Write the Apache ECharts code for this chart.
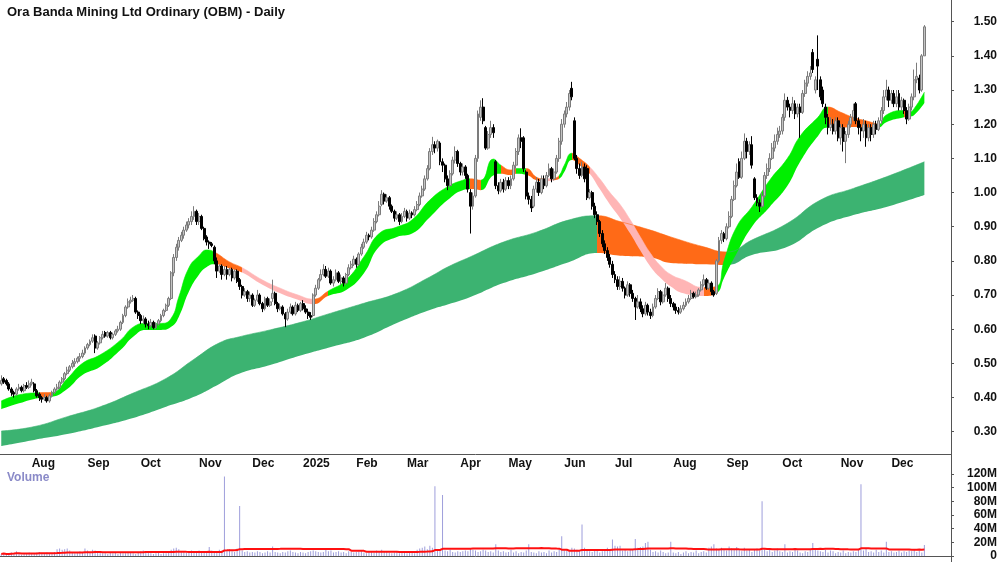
<!DOCTYPE html>
<html>
<head>
<meta charset="utf-8">
<script src="https://cdn.jsdelivr.net/npm/echarts@6/dist/echarts.min.js"></script>
<style>
  html, body { margin: 0; padding: 0; background: #fff; }
  #chart { width: 1000px; height: 562px; }
</style>
</head>
<body>
<div id="chart"></div>
<script>
  // trading days: weekdays from startDate, ASX holidays skipped
  const startDate = '2024-07-16'
  const holidays = ['2024-12-25', '2024-12-26', '2025-01-01', '2025-01-27',
    '2025-04-18', '2025-04-21', '2025-04-25', '2025-06-09']

  // daily prices, one line per month (Jul 2024 .. Dec 2025)
  const opens = [
    .440,.455,.450,.440,.425,.415,.410,.425,.430,.420,.435,.430,
    .440,.440,.420,.410,.400,.395,.400,.390,.405,.415,.425,.430,.445,.455,.470,.480,.490,.500,.505,.515,.520,.530,
    .545,.555,.565,.580,.545,.560,.575,.590,.580,.590,.575,.585,.595,.600,.620,.640,.665,.680,.685,.690,.650,
    .640,.625,.630,.615,.610,.620,.605,.615,.625,.640,.655,.670,.690,.765,.810,.840,.860,.875,.890,.905,.915,.930,.945,
    .915,.930,.895,.870,.855,.850,.840,.800,.770,.785,.760,.775,.760,.775,.750,.770,.745,.725,.700,.710,.690,
    .700,.670,.685,.700,.675,.660,.690,.670,.690,.705,.675,.660,.665,.645,.630,.650,.665,.645,.670,.655,
    .675,.660,.650,.640,.640,.700,.720,.745,.760,.775,.755,.770,.735,.745,.765,.740,.750,.735,.760,.780,.790,
    .805,.790,.820,.840,.855,.875,.870,.890,.915,.935,.965,.995,.975,.985,.960,.945,.925,.935,.915,.930,
    .945,.925,.940,.935,.950,.965,.990,1.010,1.040,1.070,1.120,1.140,1.130,1.145,1.090,1.080,1.040,1.020,1.055,1.095,1.120,
    1.085,1.060,1.075,1.050,1.000,.960,.990,1.100,1.220,1.250,1.190,1.130,1.170,1.190,1.090,1.020,1.005,1.030,1.010,
    1.035,1.020,1.040,1.080,1.120,1.160,1.160,1.060,.990,.980,.960,1.010,1.030,1.000,1.040,1.020,1.050,1.070,1.040,1.060,1.100,1.150,
    1.200,1.230,1.250,1.305,1.210,1.100,1.070,1.050,1.075,1.070,.985,1.000,.960,.935,.915,.880,.850,.830,.810,.790,
    .760,.745,.725,.740,.720,.700,.730,.705,.690,.665,.680,.660,.645,.670,.650,.640,.665,.690,.710,.680,.700,.720,.690,
    .675,.665,.655,.650,.660,.670,.680,.690,.705,.695,.700,.715,.730,.745,.720,.735,.710,.705,.800,.860,.880,
    .865,.900,.930,.980,1.020,1.090,1.045,1.100,1.150,1.120,1.140,1.040,.985,.970,.960,.990,1.050,1.070,1.100,1.130,1.150,1.170,
    1.180,1.220,1.270,1.250,1.240,1.260,1.230,1.250,1.235,1.290,1.320,1.340,1.410,1.300,1.390,1.330,1.300,1.250,1.220,1.190,1.200,1.180,1.210,
    1.160,1.190,1.150,1.170,1.200,1.220,1.260,1.210,1.190,1.180,1.200,1.160,1.190,1.170,1.200,1.185,1.210,1.240,1.280,1.300,
    1.270,1.290,1.260,1.290,1.250,1.270,1.240,1.215,1.250,1.280,1.330,1.335,1.300,1.400
  ]
  const closes = [
    .450,.445,.440,.425,.415,.410,.425,.430,.420,.435,.430,.440,
    .445,.420,.405,.400,.395,.400,.390,.405,.415,.425,.430,.445,.455,.470,.480,.490,.500,.505,.515,.520,.530,.545,
    .555,.565,.575,.545,.560,.575,.585,.580,.590,.575,.585,.595,.600,.620,.640,.665,.680,.685,.690,.650,.640,
    .625,.630,.615,.610,.620,.605,.615,.625,.640,.655,.670,.690,.765,.810,.840,.860,.875,.890,.905,.915,.930,.945,.915,
    .930,.895,.865,.855,.850,.845,.800,.770,.785,.760,.775,.760,.775,.750,.770,.740,.725,.700,.710,.690,.700,
    .670,.685,.700,.675,.660,.690,.670,.680,.705,.675,.660,.665,.645,.630,.650,.665,.645,.670,.655,.675,
    .660,.650,.640,.635,.700,.720,.745,.760,.775,.755,.770,.735,.745,.765,.740,.750,.735,.760,.780,.790,.805,
    .790,.820,.840,.855,.875,.870,.890,.915,.935,.960,.995,.975,.985,.960,.945,.925,.935,.915,.930,.945,
    .925,.940,.935,.950,.965,.990,1.010,1.040,1.070,1.120,1.140,1.130,1.150,1.090,1.080,1.040,1.020,1.055,1.095,1.120,1.085,
    1.060,1.075,1.050,1.010,.960,.990,1.100,1.230,1.250,1.210,1.130,1.170,1.190,1.175,1.020,1.005,1.030,1.010,1.035,
    1.020,1.040,1.080,1.120,1.160,1.150,1.070,.990,.980,.955,1.010,1.030,1.000,1.040,1.020,1.050,1.070,1.040,1.060,1.100,1.150,1.200,
    1.230,1.250,1.290,1.280,1.100,1.070,1.050,1.075,1.040,.985,1.000,.960,.935,.915,.880,.850,.830,.810,.790,.760,
    .745,.725,.740,.720,.700,.730,.705,.690,.665,.680,.660,.645,.670,.650,.640,.665,.690,.710,.680,.700,.720,.690,.675,
    .665,.655,.650,.660,.670,.680,.690,.705,.695,.700,.715,.730,.745,.720,.735,.710,.700,.800,.860,.880,.865,
    .900,.930,.980,1.020,1.060,1.045,1.100,1.150,1.120,1.140,1.080,.985,.970,.960,.990,1.050,1.070,1.100,1.130,1.150,1.170,1.180,
    1.220,1.270,1.250,1.240,1.260,1.230,1.250,1.235,1.290,1.320,1.340,1.350,1.360,1.330,1.370,1.280,1.260,1.220,1.190,1.200,1.180,1.210,1.160,
    1.190,1.150,1.170,1.200,1.220,1.240,1.210,1.190,1.180,1.200,1.160,1.190,1.170,1.200,1.185,1.210,1.240,1.280,1.300,1.270,
    1.290,1.260,1.280,1.250,1.270,1.240,1.215,1.250,1.280,1.330,1.340,1.300,1.400,1.485
  ]
  const lows = [
    .435,.440,.435,.420,.405,.400,.405,.420,.415,.415,.425,.425,
    .435,.415,.400,.390,.385,.390,.385,.385,.400,.410,.420,.425,.440,.450,.465,.475,.485,.490,.500,.505,.515,.525,
    .540,.550,.560,.530,.540,.555,.570,.575,.575,.570,.570,.580,.590,.595,.615,.635,.660,.675,.680,.645,.630,
    .615,.615,.605,.600,.605,.600,.600,.610,.620,.635,.650,.665,.685,.755,.800,.830,.855,.865,.885,.895,.905,.920,.905,
    .905,.890,.860,.845,.835,.840,.790,.750,.765,.745,.755,.745,.755,.740,.745,.735,.715,.690,.695,.680,.680,
    .665,.665,.680,.670,.650,.655,.665,.665,.680,.670,.650,.655,.640,.606,.625,.645,.640,.640,.650,.650,
    .655,.645,.630,.627,.635,.695,.715,.740,.755,.750,.750,.730,.725,.740,.735,.730,.725,.730,.755,.775,.785,
    .780,.785,.815,.835,.850,.860,.865,.885,.910,.930,.960,.965,.970,.950,.940,.915,.920,.905,.910,.925,
    .915,.920,.925,.930,.945,.960,.985,1.005,1.035,1.065,1.110,1.115,1.120,1.080,1.060,1.030,1.007,1.015,1.050,1.085,1.075,
    1.050,1.050,1.040,1.000,.880,.950,.985,1.090,1.210,1.200,1.125,1.125,1.160,1.160,1.010,.995,1.000,1.000,1.005,
    1.010,1.010,1.035,1.070,1.110,1.130,1.060,.980,.965,.943,.955,1.000,.990,.995,1.010,1.015,1.045,1.030,1.035,1.055,1.090,1.140,
    1.190,1.220,1.240,1.270,1.095,1.055,1.040,1.045,1.030,.978,.980,.950,.925,.905,.870,.840,.820,.800,.780,.750,
    .735,.715,.715,.710,.690,.695,.695,.680,.627,.660,.650,.635,.640,.640,.630,.635,.660,.685,.670,.675,.695,.680,.665,
    .655,.645,.643,.645,.655,.665,.675,.685,.690,.690,.695,.710,.725,.715,.715,.700,.695,.700,.795,.850,.855,
    .860,.895,.925,.975,1.015,1.040,1.040,1.095,1.100,1.110,1.070,.978,.960,.943,.955,.985,1.040,1.060,1.095,1.120,1.140,1.160,
    1.170,1.210,1.240,1.220,1.230,1.215,1.220,1.160,1.230,1.280,1.310,1.330,1.350,1.290,1.300,1.270,1.250,1.200,1.170,1.180,1.170,1.170,1.150,
    1.140,1.120,1.086,1.160,1.190,1.210,1.200,1.170,1.150,1.160,1.134,1.150,1.150,1.160,1.170,1.180,1.200,1.230,1.270,1.250,
    1.260,1.250,1.250,1.240,1.240,1.230,1.200,1.210,1.240,1.270,1.320,1.290,1.295,1.400
  ]
  const highs = [
    .465,.460,.455,.445,.430,.420,.430,.440,.435,.440,.445,.450,
    .455,.445,.425,.415,.405,.410,.405,.410,.420,.430,.440,.450,.460,.475,.490,.495,.510,.515,.520,.530,.540,.550,
    .560,.570,.585,.585,.565,.580,.595,.595,.595,.595,.590,.600,.610,.625,.645,.670,.690,.695,.700,.695,.655,
    .645,.640,.635,.625,.630,.625,.620,.630,.645,.660,.675,.695,.770,.820,.850,.870,.885,.900,.915,.925,.945,.960,.950,
    .940,.935,.900,.875,.860,.855,.845,.810,.790,.790,.785,.785,.780,.780,.775,.775,.750,.730,.720,.715,.710,
    .705,.690,.715,.705,.680,.695,.695,.690,.745,.710,.680,.675,.670,.650,.660,.675,.670,.680,.675,.680,
    .685,.670,.660,.650,.705,.730,.750,.775,.790,.785,.780,.775,.755,.775,.770,.760,.755,.765,.790,.800,.815,
    .810,.825,.850,.865,.885,.880,.900,.925,.945,.975,1.007,1.000,.995,.990,.965,.950,.945,.940,.940,.955,
    .950,.950,.945,.960,.975,1.000,1.020,1.050,1.080,1.130,1.163,1.150,1.155,1.150,1.100,1.085,1.050,1.065,1.105,1.135,1.125,
    1.090,1.085,1.080,1.055,1.010,1.000,1.110,1.240,1.270,1.276,1.195,1.180,1.210,1.200,1.095,1.030,1.040,1.040,1.045,
    1.045,1.050,1.090,1.130,1.170,1.188,1.165,1.065,1.000,.990,1.020,1.045,1.040,1.050,1.050,1.060,1.085,1.075,1.070,1.110,1.160,1.215,
    1.240,1.265,1.300,1.324,1.220,1.110,1.085,1.090,1.085,1.080,1.010,1.005,.970,.945,.920,.890,.860,.840,.820,.800,
    .770,.755,.755,.750,.725,.740,.735,.715,.695,.700,.690,.670,.680,.675,.660,.675,.700,.720,.715,.710,.735,.725,.700,
    .680,.675,.665,.670,.680,.690,.700,.715,.710,.710,.720,.740,.760,.750,.745,.740,.715,.805,.870,.890,.885,
    .910,.945,.990,1.035,1.085,1.100,1.120,1.173,1.160,1.150,1.165,1.045,.995,.980,1.000,1.060,1.085,1.115,1.145,1.170,1.190,1.195,
    1.230,1.290,1.280,1.260,1.280,1.270,1.260,1.260,1.300,1.330,1.355,1.370,1.420,1.340,1.460,1.340,1.310,1.260,1.230,1.220,1.215,1.220,1.220,
    1.200,1.200,1.180,1.210,1.230,1.260,1.265,1.220,1.200,1.215,1.210,1.200,1.200,1.210,1.210,1.220,1.250,1.300,1.330,1.310,
    1.300,1.300,1.300,1.300,1.280,1.275,1.250,1.260,1.290,1.360,1.380,1.345,1.405,1.490
  ]
  // volume in millions of shares
  const volumes = [
    3,4,2,3,5,4,7,3,2,4,3,5,
    4,3,5,6,4,3,5,4,3,6,10,11,9,10,11,8,5,4,6,7,5,11,
    8,6,9,8,7,5,4,4,3,5,4,6,3,5,4,4,6,5,4,3,5,
    7,8,7,5,4,3,4,5,3,4,4,5,9,11,12,10,7,6,5,7,8,5,6,
    8,6,7,6,13,8,7,6,9,8,116,9,10,7,6,11,73,8,6,7,5,
    6,5,7,6,4,5,7,5,14,6,5,4,6,5,7,8,6,5,4,6,
    5,4,6,7,8,7,6,5,6,9,7,8,5,6,7,5,6,4,7,6,5,
    6,7,8,5,4,6,7,5,8,6,9,7,6,5,4,5,6,4,5,6,
    4,5,6,4,9,11,12,14,10,15,12,102,10,9,89,8,7,9,6,5,7,
    6,7,8,7,11,9,8,6,7,9,8,6,7,5,17,8,6,7,5,
    6,9,5,7,4,6,5,8,17,6,5,4,7,5,6,4,8,5,7,6,9,29,
    8,10,7,12,11,9,8,46,12,9,7,6,8,10,5,7,9,12,8,24,
    15,14,15,8,9,7,10,9,25,12,13,14,19,21,9,6,7,5,8,6,4,5,21,
    5,4,6,3,5,7,4,6,5,8,4,6,7,5,12,14,17,11,9,12,10,
    8,14,11,9,13,10,7,12,8,10,6,9,11,8,80,10,7,9,6,8,11,7,
    6,17,5,7,6,9,8,5,4,7,6,9,19,10,8,7,6,9,5,8,7,4,6,
    5,8,4,6,5,7,6,9,105,8,11,6,7,5,9,6,8,5,21,6,
    7,5,6,8,5,7,6,8,7,9,6,8,5,16
  ]

  // short-term ribbon: bar index, upper, lower, state (G up / O mixed / P down)
  const shortIdx = [0,7,15,20,26,32,39,47,52,57,63,67,70,74,78,81,84,90,95,103,110,117,123,129,136,143,149,156,162,169,
    176,182,185,189,194,197,201,203,207,211,214,218,220,222,225,228,232,236,240,244,248,252,256,260,264,269,277,282,285,290,
    296,303,310,315,322,326,331,336,343,346,349,356,358,360,364]
  const shortTop = [.390,.408,.414,.415,.455,.500,.525,.568,.606,.617,.617,.632,.694,.780,.815,.832,.826,.797,.780,.744,
    .720,.700,.688,.712,.744,.812,.880,.899,.920,.978,1.017,1.036,1.040,1.036,1.098,1.080,1.066,1.070,1.070,1.045,
    1.040,1.042,1.050,1.080,1.115,1.100,1.075,1.040,1.000,.965,.920,.870,.822,.785,.760,.744,.722,.725,.800,.900,
    .958,1.036,1.100,1.165,1.220,1.250,1.235,1.220,1.206,1.200,1.227,1.240,1.235,1.246,1.294]
  const shortBot = [.366,.383,.399,.402,.425,.466,.490,.539,.578,.598,.598,.607,.636,.710,.760,.782,.790,.778,.766,.730,
    .705,.686,.673,.698,.715,.764,.841,.870,.880,.928,.978,1.007,1.010,1.007,1.050,1.055,1.051,1.055,1.052,1.036,
    1.033,1.036,1.040,1.060,1.095,1.080,1.055,1.010,.965,.925,.880,.830,.783,.750,.725,.705,.697,.705,.750,.822,
    .900,.958,1.020,1.090,1.165,1.190,1.190,1.192,1.188,1.190,1.206,1.220,1.222,1.227,1.262]
  const shortState = ['G','G','O','G','G','G','G','G','G','G','G','G','G','G','G','G','O','O','P','P',
    'P','P','O','G','G','G','G','G','G','G','G','G','O','G','G','O','O','G','O','O',
    'P','O','G','G','O','O','P','P','P','P','P','P','P','P','P','P','O','G','G','G',
    'G','G','G','G','G','O','O','O','O','G','G','O','G','G','G']

  // long-term ribbon: bar index, upper, lower, state (D up / O mixed)
  const longIdx = [0,13,26,39,52,65,76,86,94,106,118,130,143,156,169,176,185,198,211,224,235,244,256,264,277,286,296,310,323,336,349,364]
  const longTop = [.302,.315,.344,.373,.413,.456,.512,.560,.578,.598,.620,.647,.676,.705,.753,.782,.812,.855,.884,.920,
    .932,.915,.890,.870,.841,.826,.861,.910,.978,1.012,1.046,1.090]
  const longBot = [.258,.276,.293,.315,.340,.373,.402,.440,.470,.495,.523,.548,.575,.618,.656,.672,.694,.735,.764,.797,
    .823,.815,.810,.794,.790,.788,.817,.841,.900,.934,.958,.993]
  const longState = ['D','D','D','D','D','D','D','D','D','D','D','D','D','D','D','D','D','D','D','D',
    'O','O','O','O','O','D','D','D','D','D','D','D']

  const priceTicks = [0.3, 0.4, 0.5, 0.6, 0.7, 0.8, 0.9, 1.0, 1.1, 1.2, 1.3, 1.4, 1.5]
  const volumeTicks = [0, 20, 40, 60, 80, 100, 120]
  const monthNames = ['Jan', 'Feb', 'Mar', 'Apr', 'May', 'Jun', 'Jul', 'Aug', 'Sep', 'Oct', 'Nov', 'Dec']

  const bandColors = {G: '#00ef00', O: '#ff6a17', P: '#ffb5b5', D: '#3cb371'}
  const font = '"Liberation Sans Narrow", "Arial Narrow", "Liberation Sans", Arial, sans-serif'

  function buildDates(n) {
    let d = new Date(startDate + 'T00:00:00Z')
    let out = []
    while (out.length < n) {
      let day = d.getUTCDay()
      let s = d.toISOString().slice(0, 10)
      if (day !== 0 && day !== 6 && holidays.indexOf(s) < 0) out.push(s)
      d.setUTCDate(d.getUTCDate() + 1)
    }
    return out
  }

  const dates = buildDates(closes.length)
  let categories = dates.slice()
  for (let k = 0; k < 10; k++) categories.push('pad' + k) // empty room right of the last bar

  function isMonthStart(idx) {
    if (idx <= 0 || idx >= dates.length) return false
    return dates[idx].slice(0, 7) !== dates[idx - 1].slice(0, 7)
  }

  function monthLabel(value) {
    if (value.indexOf('pad') === 0) return ''
    let m = +value.slice(5, 7)
    return m === 1 ? value.slice(0, 4) : monthNames[m - 1]
  }

  // colour pieces along x for a ribbon
  function ribbonPieces(idx, state) {
    let pieces = []
    for (let k = 0; k < idx.length - 1; k++) {
      let last = pieces[pieces.length - 1]
      if (last && last.color === bandColors[state[k]]) {
        last.lt = idx[k + 1]
      } else {
        pieces.push({gte: idx[k], lt: idx[k + 1], color: bandColors[state[k]]})
      }
    }
    let end = pieces[pieces.length - 1]
    delete end.lt
    end.lte = idx[idx.length - 1] + 1
    return pieces
  }

  // a ribbon = invisible lower edge + stacked thickness with area fill
  function ribbonSeries(name, idx, top, bot) {
    return [
      {
        name: name + ' base', type: 'line', stack: name, smooth: 0.5, symbol: 'none', silent: true, z: 1,
        lineStyle: {width: 0, opacity: 0},
        data: idx.map((x, k) => [x, bot[k]])
      },
      {
        name: name, type: 'line', stack: name, smooth: 0.5, symbol: 'none', silent: true, z: 1,
        lineStyle: {width: 0.6},
        areaStyle: {opacity: 1},
        data: idx.map((x, k) => [x, +(top[k] - bot[k]).toFixed(3)])
      }
    ]
  }

  let candles = closes.map((c, i) => [opens[i], c, lows[i], highs[i]])

  // 50 day average of volume
  let volAvg = volumes.map((v, i) => {
    let from = Math.max(0, i - 49)
    let sum = 0
    for (let k = from; k <= i; k++) sum += volumes[k]
    return +(sum / (i - from + 1)).toFixed(2)
  })

  let chart = echarts.init(document.getElementById('chart'), null, {renderer: 'canvas'})

  let series = []
    .concat(ribbonSeries('long', longIdx, longTop, longBot))   // 0, 1
    .concat(ribbonSeries('short', shortIdx, shortTop, shortBot)) // 2, 3
    .concat([
      {
        name: 'OBM', type: 'candlestick', xAxisIndex: 0, yAxisIndex: 0, z: 3, barWidth: 2.4,
        itemStyle: {color: '#c4c4c4', color0: '#000000', borderColor: '#7c7c7c', borderColor0: '#000000', borderWidth: 1},
        data: candles
      },
      {
        name: 'Volume', type: 'bar', xAxisIndex: 1, yAxisIndex: 1, barWidth: 1,
        itemStyle: {color: '#9e9edb'},
        data: volumes
      },
      {
        name: 'Vol avg', type: 'line', xAxisIndex: 1, yAxisIndex: 1, symbol: 'none',
        lineStyle: {color: '#ff1010', width: 2}, z: 4,
        data: volAvg
      }
    ])

  chart.setOption({
    animation: false,
    backgroundColor: '#ffffff',
    title: {
      text: 'Ora Banda Mining Ltd Ordinary (OBM) - Daily',
      left: 2, top: 1,
      textStyle: {fontFamily: font, fontSize: 13, fontWeight: 'bold', color: '#111'}
    },
    graphic: [
      {type: 'line', shape: {x1: 951.5, y1: 0, x2: 951.5, y2: 562}, style: {stroke: '#555', lineWidth: 1}, z: 10},
      {type: 'text', left: 7, top: 472, style: {text: 'Volume', fill: '#8a8ac8', font: 'bold 12px ' + font}}
    ],
    visualMap: [
      {type: 'piecewise', show: false, seriesIndex: 1, dimension: 0, pieces: ribbonPieces(longIdx, longState)},
      {type: 'piecewise', show: false, seriesIndex: 3, dimension: 0, pieces: ribbonPieces(shortIdx, shortState)}
    ],
    grid: [
      {left: 0, right: 49, top: 0, height: 454.5},
      {left: 0, right: 49, top: 468, height: 90}
    ],
    xAxis: [
      {
        type: 'category', gridIndex: 0, data: categories, boundaryGap: true,
        axisLine: {lineStyle: {color: '#555'}},
        axisTick: {interval: isMonthStart, length: 4, lineStyle: {color: '#555'}},
        axisLabel: {
          interval: isMonthStart, formatter: monthLabel, align: 'left', margin: 3,
          fontFamily: font, fontSize: 12, fontWeight: 'bold', color: '#111'
        },
        splitLine: {show: false}
      },
      {
        type: 'category', gridIndex: 1, data: categories, position: 'top', boundaryGap: true,
        axisLine: {lineStyle: {color: '#555'}},
        axisTick: {show: false},
        axisLabel: {show: false},
        splitLine: {show: false}
      }
    ],
    yAxis: [
      {
        type: 'value', gridIndex: 0, position: 'right', min: 0.2333, max: 1.5635,
        axisLine: {show: true, lineStyle: {color: '#555'}},
        axisTick: {show: true, customValues: priceTicks, length: 3, lineStyle: {color: '#555'}},
        axisLabel: {
          customValues: priceTicks, formatter: v => v.toFixed(2), align: 'right', margin: 46,
          fontFamily: font, fontSize: 12, fontWeight: 'bold', color: '#111'
        },
        splitLine: {show: false}
      },
      {
        type: 'value', gridIndex: 1, position: 'right', min: 0, max: 128.57,
        axisLine: {show: true, lineStyle: {color: '#555'}},
        axisTick: {show: true, customValues: volumeTicks, length: 3, lineStyle: {color: '#555'}},
        axisLabel: {
          customValues: volumeTicks, formatter: v => (v === 0 ? '0' : v + 'M'), align: 'right', margin: 46,
          fontFamily: font, fontSize: 12, fontWeight: 'bold', color: '#111'
        },
        splitLine: {show: false}
      }
    ],
    series: series
  })
</script>
</body>
</html>
